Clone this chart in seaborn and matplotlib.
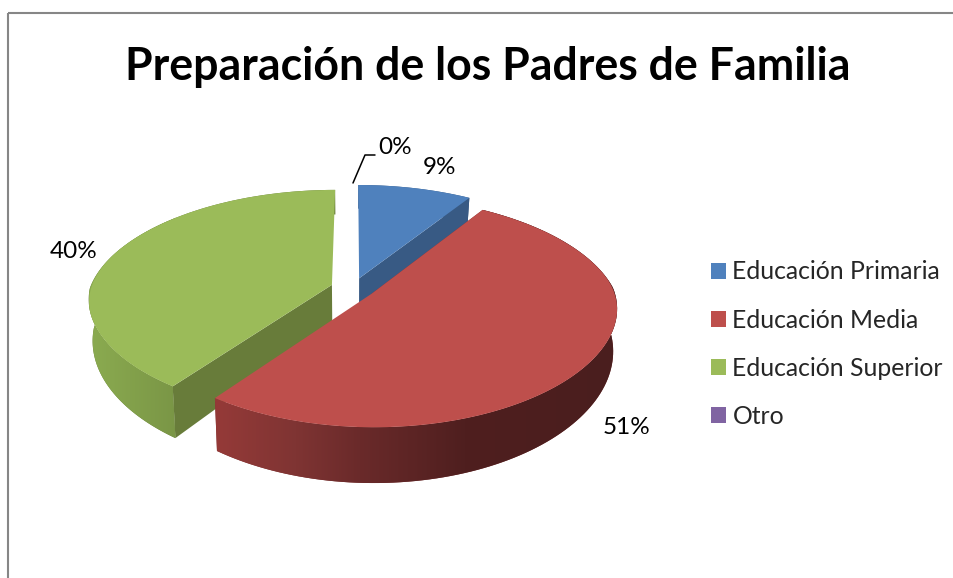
import matplotlib
matplotlib.use('Agg')
import matplotlib.pyplot as plt
import matplotlib.transforms as mtransforms
from matplotlib.colors import LinearSegmentedColormap
from matplotlib.patches import Rectangle
import numpy as np
import seaborn as sns

title = 'Preparación de los Padres de Familia'
categories = ['Educación Primaria', 'Educación Media', 'Educación Superior', 'Otro']
values = [9, 51, 40, 0]
value_labels = ['9%', '51%', '40%', '0%']

top_colors = ['#4F81BD', '#BE4F4C', '#9BBB59', '#8064A2']
cut_colors = ['#385A84', '#7A3231', '#687C3A', '#5A4672']


class Tilted(mtransforms.Transform):
    # pie lying on a table, seen from above; level 1 is the bottom of the pie
    input_dims = 2
    output_dims = 2

    def __init__(self, level=0):
        super().__init__()
        self.level = level

    def transform_non_affine(self, xy):
        xy = np.asarray(xy, dtype=float)
        wx = 1 + np.where(xy[:, 1] > 0, 0.18, 0.12) * xy[:, 1]
        sx = 353 + (1 - 0.015 * self.level) * 242 * xy[:, 0] / wx
        sy = 288 - 110.7 * xy[:, 1] / (1 + 0.156 * xy[:, 1]) + self.level * (40 - 15 * xy[:, 1])
        return np.column_stack([sx, sy])


top = Tilted(0)
bottom = Tilted(1)


def rim(wedge, t1, t2):
    t = np.radians(np.linspace(t1, t2, 120))
    return np.column_stack([wedge.center[0] + np.cos(t), wedge.center[1] + np.sin(t)])


sns.set_theme(style='white')
plt.rcParams['font.family'] = ['Lato', 'DejaVu Sans']

fig = plt.figure(figsize=(9.54, 5.78), dpi=100)
ax = fig.add_axes([0, 0, 1, 1])

wedges, _ = ax.pie(values, explode=[0.092] * 4, colors=sns.color_palette(top_colors),
                   startangle=90, counterclock=False, radius=1, wedgeprops={'linewidth': 0})
ax.set_aspect('auto')

wall_maps = {
    1: LinearSegmentedColormap.from_list('red_wall', [(0, '#953A38'), (0.2, '#7F3433'), (0.36, '#6A2A2A'),
                                                      (0.62, '#4F1F1F'), (1, '#4A1E1E')]),
    2: LinearSegmentedColormap.from_list('green_wall', ['#8BAB50', '#7A9646']),
}

# back to front: blue, green, red
for z, i in enumerate([0, 2, 1]):
    w = wedges[i]
    w.set_transform(top + ax.transData)
    w.set_zorder(z * 3 + 3)

    # cut face towards the viewer
    edge = w.theta1 if i == 0 else w.theta2
    end = rim(w, edge, edge)[0]
    ground = np.array([w.center, end])
    face = np.vstack([top.transform(ground), bottom.transform(ground)[::-1]])
    ax.fill(face[:, 0], face[:, 1], color=cut_colors[i], lw=0, zorder=z * 3 + 1)

    # outer wall
    arc = rim(w, w.theta1, w.theta2)
    wall = np.vstack([top.transform(arc), bottom.transform(arc)[::-1]])
    poly, = ax.fill(wall[:, 0], wall[:, 1], color=cut_colors[i], lw=0, zorder=z * 3 + 2)
    if i in wall_maps:
        front = wall[wall[:, 1] > 288]
        im = ax.imshow(np.linspace(0, 1, 256)[None, :], cmap=wall_maps[i], aspect='auto',
                       extent=(front[:, 0].min(), front[:, 0].max(), wall[:, 1].max(), wall[:, 1].min()),
                       zorder=z * 3 + 2)
        im.set_clip_path(poly)

ax.set_xlim(0, 954)
ax.set_ylim(578, 0)
ax.axis('off')

ax.add_patch(Rectangle((8, 13), 1000, 700, fill=False, ec='#868686', lw=1.5, zorder=1))

ax.text(488, 67, title, fontsize=32.1, fontweight='bold', color='black', ha='center', va='center', zorder=20)

label_pos = [(440, 167), (627, 427), (74, 252), (395, 147)]
for txt, (x, y) in zip(value_labels, label_pos):
    ax.text(x, y, txt, fontsize=17.5, color='black', ha='center', va='center', zorder=20)
ax.plot([353, 365, 375], [183, 155, 155], color='black', lw=1.1, zorder=20)

leg = ax.legend(wedges, categories, loc='upper left', bbox_to_anchor=(704 / 954, 1 - 253 / 578),
                bbox_transform=fig.transFigure, frameon=False, fontsize=17.8,
                handlelength=0.61, handleheight=0.61, handletextpad=0.24, labelspacing=1.02,
                borderpad=0.3, borderaxespad=0)
leg.set_zorder(20)

fig.savefig('out.png', dpi=100)
